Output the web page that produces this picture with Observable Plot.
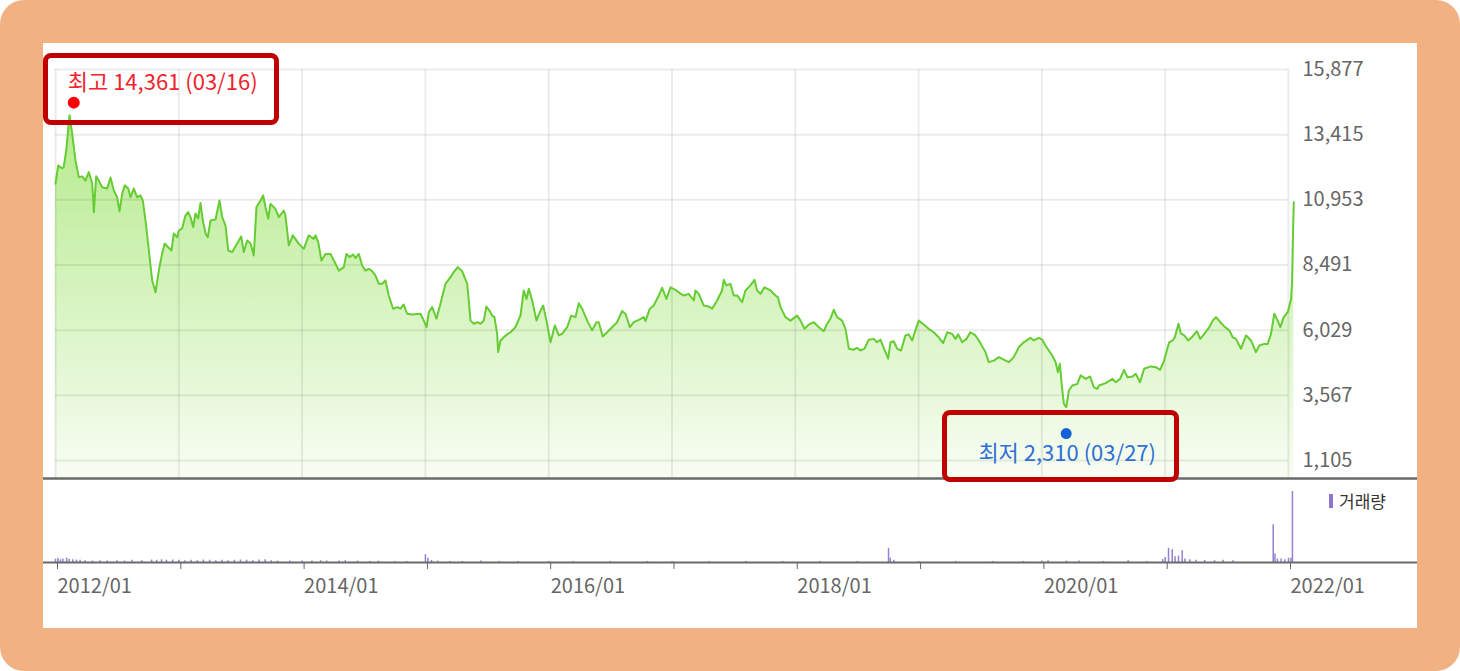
<!DOCTYPE html>
<html><head><meta charset="utf-8">
<script src="https://cdn.jsdelivr.net/npm/d3@7"></script>
<script src="https://cdn.jsdelivr.net/npm/@observablehq/plot@0.6"></script>
<style>
html,body{margin:0;padding:0;background:#fff;}
#frame{position:absolute;left:0;top:0;width:1460px;height:671px;background:#f2b183;border-radius:24px;overflow:hidden;}
#panel{position:absolute;left:43px;top:43px;width:1374px;height:585px;background:#fff;}
#price{position:absolute;left:0;top:0;}
#volume{position:absolute;left:0;top:437px;}
.box{position:absolute;border:5px solid #c00000;border-radius:8px;box-sizing:border-box;z-index:5;}
#legend{position:absolute;left:1286px;top:445px;font:17px "Noto Sans CJK KR",sans-serif;color:#333;display:flex;align-items:center;z-index:5;}
#legend span.sw{display:inline-block;width:4px;height:14px;background:#8f74cc;margin-right:6px;}
svg{overflow:visible;}
</style>
</head><body>
<div id="frame"><div id="panel">
  <div id="price"></div>
  <div id="volume"></div>
  <div class="box" style="left:0px;top:10px;width:236px;height:72px;"></div>
  <div class="box" style="left:899px;top:367px;width:237px;height:72px;"></div>
  <div id="legend"><span class="sw"></span>거래량</div>
</div></div>
<script>
// ---- data ----
const yearTicks = [2012,2013,2014,2015,2016,2017,2018,2019,2020,2021,2022];
const priceTicks = [1105,3567,6029,8491,10953,13415,15877];

const priceYears = [
2012.000,2012.022,2012.054,2012.067,2012.087,2012.114,2012.135,2012.162,2012.189,2012.216,
2012.243,2012.270,2012.298,2012.311,2012.330,2012.351,2012.379,2012.419,2012.446,2012.473,
2012.500,2012.519,2012.541,2012.562,2012.590,2012.608,2012.635,2012.663,2012.689,2012.708,
2012.730,2012.757,2012.784,2012.811,2012.838,2012.865,2012.886,2012.914,2012.941,2012.959,
2012.987,2013.000,2013.027,2013.054,2013.076,2013.095,2013.117,2013.135,2013.157,2013.176,
2013.195,2013.217,2013.235,2013.257,2013.298,2013.330,2013.352,2013.379,2013.401,2013.433,
2013.474,2013.506,2013.527,2013.555,2013.582,2013.608,2013.630,2013.663,2013.684,2013.703,
2013.725,2013.744,2013.784,2013.811,2013.852,2013.865,2013.892,2013.925,2013.973,2014.014,
2014.054,2014.095,2014.109,2014.131,2014.157,2014.190,2014.230,2014.271,2014.298,2014.338,
2014.360,2014.387,2014.414,2014.433,2014.460,2014.487,2014.514,2014.541,2014.568,2014.595,
2014.622,2014.649,2014.676,2014.703,2014.738,2014.771,2014.798,2014.824,2014.852,2014.893,
2014.960,2014.987,2015.009,2015.028,2015.055,2015.090,2015.122,2015.163,2015.203,2015.230,
2015.263,2015.298,2015.339,2015.366,2015.393,2015.425,2015.447,2015.474,2015.494,2015.520,
2015.542,2015.560,2015.582,2015.590,2015.609,2015.636,2015.663,2015.690,2015.730,2015.771,
2015.798,2015.820,2015.839,2015.866,2015.901,2015.928,2015.955,2015.982,2016.015,2016.050,
2016.082,2016.109,2016.150,2016.182,2016.217,2016.244,2016.271,2016.312,2016.352,2016.387,
2016.406,2016.438,2016.474,2016.514,2016.555,2016.595,2016.623,2016.658,2016.690,2016.731,
2016.771,2016.785,2016.820,2016.852,2016.893,2016.920,2016.955,2016.988,2017.028,2017.069,
2017.096,2017.136,2017.177,2017.190,2017.217,2017.258,2017.298,2017.325,2017.366,2017.406,
2017.420,2017.441,2017.474,2017.501,2017.528,2017.569,2017.596,2017.636,2017.669,2017.690,
2017.718,2017.750,2017.799,2017.839,2017.858,2017.880,2017.920,2017.961,2018.015,2018.042,
2018.075,2018.109,2018.150,2018.191,2018.231,2018.258,2018.285,2018.312,2018.339,2018.380,
2018.407,2018.434,2018.469,2018.502,2018.528,2018.561,2018.596,2018.636,2018.663,2018.690,
2018.717,2018.753,2018.772,2018.798,2018.826,2018.858,2018.893,2018.920,2018.948,2018.974,
2019.001,2019.042,2019.082,2019.123,2019.163,2019.199,2019.232,2019.272,2019.299,2019.321,
2019.353,2019.388,2019.420,2019.461,2019.502,2019.542,2019.569,2019.610,2019.650,2019.731,
2019.772,2019.813,2019.853,2019.907,2019.934,2019.975,2020.003,2020.029,2020.056,2020.084,
2020.111,2020.130,2020.146,2020.160,2020.178,2020.198,2020.219,2020.247,2020.288,2020.314,
2020.355,2020.390,2020.422,2020.450,2020.463,2020.517,2020.572,2020.599,2020.634,2020.666,
2020.694,2020.735,2020.761,2020.796,2020.829,2020.883,2020.924,2020.959,2020.991,2021.032,
2021.060,2021.078,2021.108,2021.127,2021.154,2021.187,2021.222,2021.257,2021.284,2021.317,
2021.357,2021.385,2021.412,2021.447,2021.479,2021.520,2021.548,2021.574,2021.615,2021.656,
2021.696,2021.736,2021.763,2021.804,2021.831,2021.858,2021.885,2021.912,2021.934,2021.961,
2021.994,2022.021,2022.029,2022.037,2022.043];

const prices = [
11560,12250,12140,12190,12820,14150,13460,12440,11810,11840,
11680,12000,11570,10490,11840,11680,11430,11380,11800,11310,
11050,10520,11190,11500,11380,11050,11380,11050,11120,10930,
10170,9040,7910,7460,8280,8930,9300,9160,9040,9680,
9540,9790,9870,10360,10490,10300,9920,10440,10250,10830,
10170,9680,9540,10170,10210,10930,10300,9980,9040,8980,
9300,9570,8980,9420,9300,8850,10680,10930,11120,10680,
10240,10800,10610,10300,10550,10360,9230,9610,9300,9100,
9610,9480,9610,9350,8660,8910,8910,8540,8280,8410,
8910,8790,8890,8760,8910,8470,8280,8350,8260,8090,
7780,7780,7910,7340,6840,6900,6840,7000,6650,6620,
6650,6390,6140,6710,6900,6460,7030,7780,8030,8220,
8410,8260,7780,6390,6270,6330,6270,6390,6920,6770,
6580,6520,5890,5200,5640,5760,5870,5950,6140,6580,
7530,7210,7590,7150,6390,6710,6960,6390,5570,6210,
5830,5890,6140,6580,6520,7050,6840,6390,6020,6330,
6330,5790,5950,6140,6330,6750,6650,6140,6330,6420,
6520,6370,6840,6960,7340,7630,7210,7650,7550,7410,
7340,7400,7150,7530,7400,6960,6920,6840,7150,7530,
7930,7720,7780,7340,7340,7090,7530,7720,7930,7530,
7400,7650,7530,7340,7280,6900,6520,6390,6580,6390,
6080,6240,6330,6140,5990,6270,6460,6800,6520,6390,
6080,5330,5290,5360,5260,5330,5670,5700,5570,5670,
5360,4950,5570,5610,5330,5260,5830,5870,5640,6020,
6390,6240,6080,5950,5760,5540,5950,5890,5700,5870,
5570,5700,5950,5830,5540,5200,4820,4880,5010,4820,
5010,5390,5570,5740,5640,5740,5670,5450,5260,5070,
4820,4440,4760,4000,3250,3120,3750,3940,4000,4320,
4190,4280,3870,3810,3940,4030,4190,4060,4190,4530,
4250,4280,4380,4060,4570,4660,4630,4530,4880,5570,
5640,5760,6270,5910,5830,5640,5790,5990,5700,5890,
6140,6390,6520,6330,6170,6020,5760,5700,5330,5830,
5640,5200,5450,5510,5510,5890,6650,6390,6140,6520,
6710,7210,7910,9790,10860];

const volYears = [
2012.00,2012.02,2012.04,2012.06,2012.09,2012.11,2012.14,2012.17,2012.20,2012.24,
2012.30,2012.36,2012.42,2012.50,2012.56,2012.62,2012.70,2012.78,2012.82,2012.86,
2012.90,2012.95,2013.00,2013.05,2013.10,2013.15,2013.20,2013.25,2013.30,2013.35,
2013.40,2013.45,2013.50,2013.55,2013.60,2013.65,2013.70,2013.75,2013.80,2013.90,
2014.00,2014.08,2014.15,2014.20,2014.30,2014.35,2014.45,2014.55,2014.62,2014.75,
2014.85,2015.00,2015.02,2015.05,2015.10,2015.20,2015.30,2015.45,2015.60,2015.75,
2016.00,2016.20,2016.50,2016.80,2017.00,2017.30,2017.60,2017.90,2018.20,2018.50,
2018.756,2018.77,2018.80,2019.00,2019.30,2019.60,2019.85,2020.00,2020.05,2020.20,
2020.30,2020.50,2020.70,2020.85,2020.98,2021.00,2021.027,2021.057,2021.08,2021.108,
2021.138,2021.16,2021.20,2021.25,2021.32,2021.40,2021.47,2021.55,2021.876,2021.89,
2021.91,2021.94,2021.97,2022.00,2022.02,2022.032];
const volumes = [
45,55,40,50,60,45,40,35,30,25,
20,25,20,25,20,30,25,35,30,40,
30,35,30,25,30,25,35,30,25,30,
25,30,35,30,25,35,40,25,20,20,
20,20,25,20,20,25,20,15,20,15,
15,110,60,30,20,15,15,20,15,15,
15,15,15,15,15,15,15,15,15,15,
200,60,30,15,15,15,15,20,25,20,
20,15,25,15,40,70,200,180,80,90,
165,50,40,30,30,25,30,25,530,120,
50,50,40,60,60,1000];

const hiYear = [2012.148], hiValue = [14361], hiLabel = ["최고 14,361 (03/16)"];
const loYear = [2020.197], loValue = [2310], loLabel = ["최저 2,310 (03/27)"];

// ---- build ----
const priceData = priceYears.slice(0, prices.length).map((x, i) => ({x, y: prices[i]}));
const volData = volYears.map((x, i) => ({x, v: volumes[i]}));
const hi = hiYear.map((x, i) => ({x, y: hiValue[i], t: hiLabel[i]}));
const lo = loYear.map((x, i) => ({x, y: loValue[i], t: loLabel[i]}));

const FONT = "'Noto Sans CJK KR','Noto Sans',sans-serif";
const yMin = 425;

const defs = () => {
  const d = document.createElementNS("http://www.w3.org/2000/svg", "defs");
  d.innerHTML = '<linearGradient id="pg" gradientUnits="userSpaceOnUse" x1="0" y1="60" x2="0" y2="435">' +
    '<stop offset="0" stop-color="#b2ea88"/><stop offset="1" stop-color="#f8fdf3"/></linearGradient>';
  return d;
};

const price = Plot.plot({
  width: 1374, height: 437,
  marginLeft: 12, marginRight: 129, marginTop: 26, marginBottom: 2,
  x: {domain: [2012, 2022], axis: null, label: null},
  y: {domain: [yMin, 15877], axis: null, label: null},
  style: {background: "transparent", fontFamily: FONT, fontSize: "20px", overflow: "visible"},
  marks: [
    defs,
    Plot.areaY(priceData, {x: "x", y1: yMin, y2: "y", fill: "url(#pg)"}),
    Plot.ruleY(priceTicks, {stroke: "#000", strokeOpacity: 0.075, strokeWidth: 2}),
    Plot.ruleX(yearTicks, {stroke: "#000", strokeOpacity: 0.075, strokeWidth: 2}),
    Plot.lineY(priceData, {x: "x", y: "y", stroke: "#66cc33", strokeWidth: 2}),
    Plot.ruleY([yMin], {stroke: "#6a6a6a", strokeWidth: 2.5, insetLeft: -12, insetRight: -129}),
    Plot.axisY(priceTicks, {anchor: "right", label: null, tickSize: 0, tickPadding: 14, tickFormat: d3.format(","), color: "#666", fontSize: 20}),
    Plot.dot(hi, {x: "x", y: "y", r: 6, fill: "#ff0000", dy: -7}),
    Plot.text(hi, {x: "x", y: "y", text: "t", dx: -6, dy: -27, textAnchor: "start", fill: "#f0242c", fontSize: 22, fontFamily: FONT}),
    Plot.dot(lo, {x: "x", y: "y", r: 5.5, fill: "#1560d8", dy: 5}),
    Plot.text(lo, {x: "x", y: "y", text: "t", dx: 1, dy: 25, textAnchor: "middle", fill: "#2f6fd6", fontSize: 22, fontFamily: FONT})
  ]
});
document.getElementById("price").appendChild(price);

const volume = Plot.plot({
  width: 1374, height: 148,
  marginLeft: 12, marginRight: 129, marginTop: 11, marginBottom: 66,
  x: {domain: [2012, 2022], axis: null, label: null},
  y: {domain: [0, 1000], axis: null, label: null},
  style: {background: "transparent", fontFamily: FONT, fontSize: "20px", overflow: "visible"},
  marks: [
    Plot.ruleX(volData, {x: "x", y1: 0, y2: "v", stroke: "#9680d0", strokeWidth: 1.5}),
    Plot.ruleY([0], {stroke: "#6a6a6a", strokeWidth: 2, insetLeft: -12, insetRight: -129}),
    Plot.axisX(yearTicks, {anchor: "bottom", label: null, tickSize: 7, tickPadding: 9, tickFormat: d => d % 2 === 0 ? `${d}/01` : "", textAnchor: "start", dx: 2, color: "#666", fontSize: 20})
  ]
});
document.getElementById("volume").appendChild(volume);
</script>
</body></html>
